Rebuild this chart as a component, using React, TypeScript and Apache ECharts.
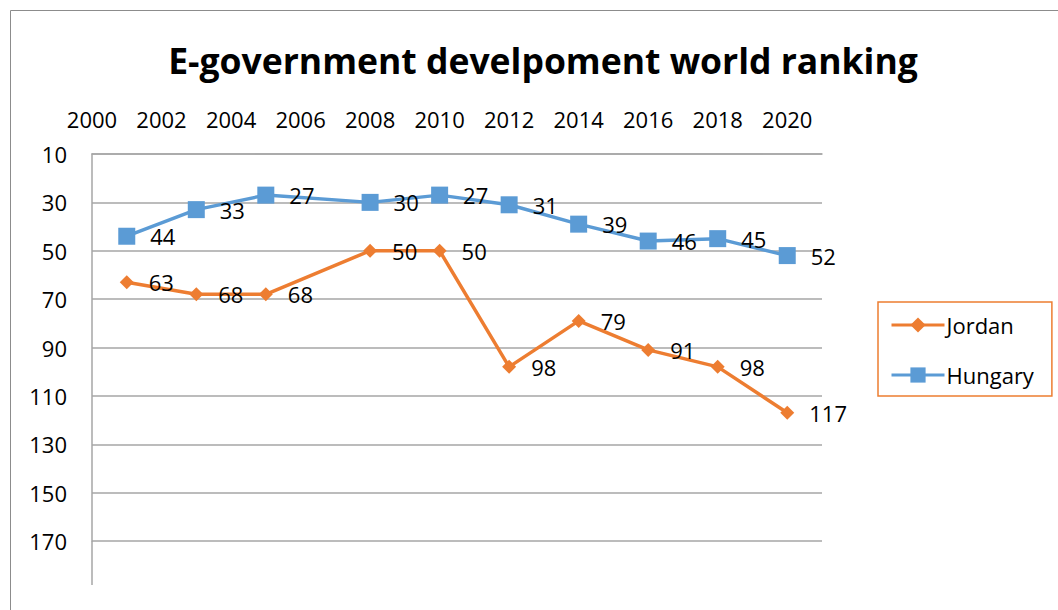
import React, { useEffect, useRef } from "react";
import * as echarts from "echarts";

const years = [2001, 2003, 2005, 2008, 2010, 2012, 2014, 2016, 2018, 2020];
const jordan = [63, 68, 68, 50, 50, 98, 79, 91, 98, 117];
const hungary = [44, 33, 27, 30, 27, 31, 39, 46, 45, 52];
const titleText = "E-government develpoment world ranking";

const FONT = "'Open Sans', sans-serif";
const ORANGE = "#ED7D31";
const BLUE = "#5B9BD5";
const GRID = "#A6A6A6";

export default function App() {
  const ref = useRef<HTMLDivElement>(null);
  useEffect(() => {
    if (!ref.current) return;
    const chart = echarts.init(ref.current, undefined, { renderer: "svg" });
    const label = {
      show: true,
      position: "right",
      distance: 15,
      color: "#000",
      fontSize: 22,
      fontFamily: FONT,
    };
    chart.setOption({
      animation: false,
      backgroundColor: "#fff",
      textStyle: { fontFamily: FONT },
      title: {
        text: titleText,
        left: 538,
        top: 37,
        textAlign: "center",
        textStyle: { fontSize: 35.5, fontWeight: "bold", color: "#000", fontFamily: FONT },
      },
      legend: {
        orient: "vertical",
        left: 878,
        top: 302,
        padding: [12, 18, 10, 12],
        itemGap: 28,
        itemWidth: 53,
        itemHeight: 19,
        borderColor: ORANGE,
        borderWidth: 1.5,
        lineStyle: { width: 3 },
        textStyle: { fontSize: 22, color: "#000", fontFamily: FONT, padding: [0, 0, 0, -3] },
        data: ["Jordan", "Hungary"],
      },
      grid: { left: 92, top: 154, right: 236, bottom: 69, containLabel: false },
      xAxis: {
        type: "value",
        position: "top",
        min: 2000,
        max: 2021,
        interval: 2,
        axisLine: { show: true, lineStyle: { color: GRID, width: 1.5 } },
        axisTick: { show: false },
        splitLine: { show: false },
        axisLabel: {
          fontSize: 22,
          color: "#000",
          fontFamily: FONT,
          margin: 24,
          formatter: (v: number) => (v % 2 === 0 ? String(v) : ""),
        },
      },
      yAxis: {
        type: "value",
        inverse: true,
        min: 10,
        max: 170,
        interval: 20,
        axisLine: { show: true, lineStyle: { color: GRID, width: 1.5 } },
        axisTick: { show: false },
        splitLine: { show: true, lineStyle: { color: GRID, width: 1.5 } },
        axisLabel: { fontSize: 22, color: "#000", fontFamily: FONT, margin: 25 },
      },
      graphic: [
        {
          type: "line",
          shape: { x1: 92, y1: 541, x2: 92, y2: 585 },
          style: { stroke: GRID, lineWidth: 1.5 },
        },
        {
          type: "polyline",
          shape: { points: [[10.5, 610], [10.5, 10.5], [1058, 10.5]] },
          style: { stroke: "#8C8C8C", lineWidth: 1, fill: "none" },
        },
      ],
      series: [
        {
          name: "Jordan",
          type: "line",
          data: years.map((y, i) => [y, jordan[i]]),
          symbol: "diamond",
          symbolSize: 14,
          itemStyle: { color: ORANGE },
          lineStyle: { color: ORANGE, width: 3.5 },
          label,
        },
        {
          name: "Hungary",
          type: "line",
          data: years.map((y, i) => [y, hungary[i]]),
          symbol: "rect",
          symbolSize: 17,
          itemStyle: { color: BLUE },
          lineStyle: { color: BLUE, width: 3.5 },
          label,
        },
      ],
    });
    return () => chart.dispose();
  }, []);
  return (
    <div
      ref={ref}
      style={{ position: "fixed", left: 0, top: 0, width: 1058, height: 610 }}
    />
  );
}
